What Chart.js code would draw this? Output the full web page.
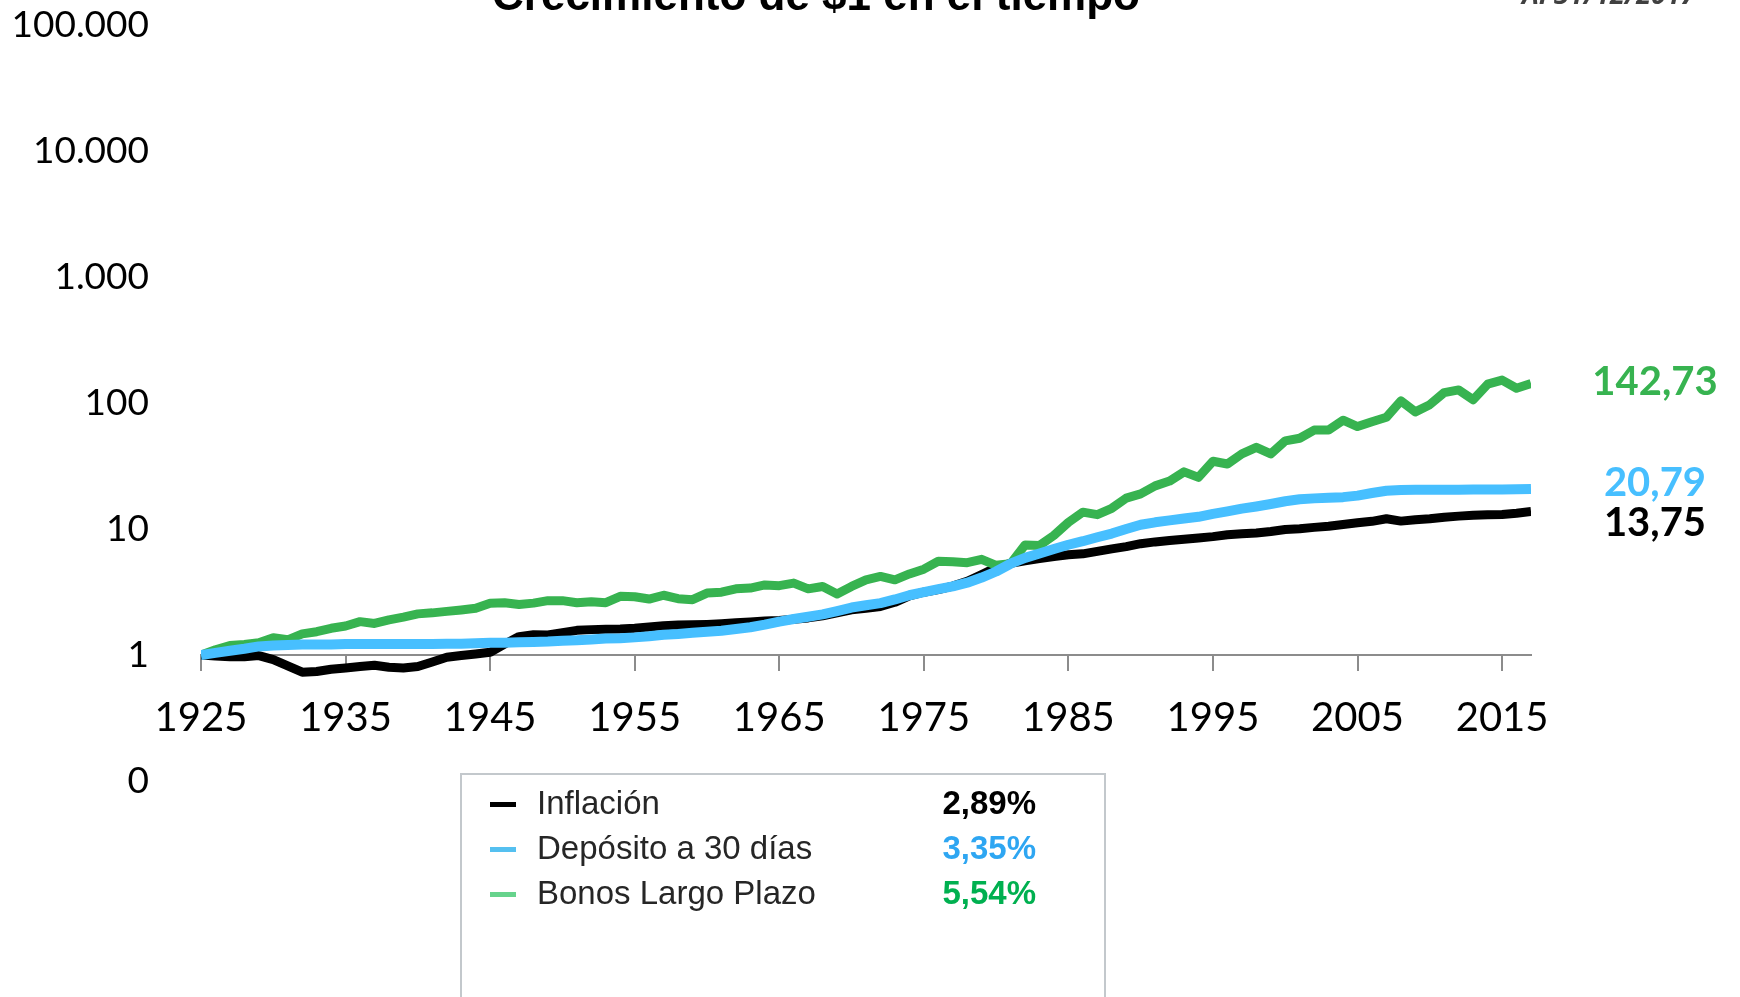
<!DOCTYPE html>
<html><head><meta charset="utf-8">
<script src="https://cdn.jsdelivr.net/npm/chart.js@4.4.1/dist/chart.umd.min.js"></script>
<style>
html,body{margin:0;padding:0;background:#fff;}
#wrap{position:relative;width:1740px;height:997px;overflow:hidden;background:#fff;}
#c{position:absolute;left:0;top:0;}
.t{position:absolute;white-space:nowrap;}
#title{left:816px;top:-27px;transform:translateX(-50%);font:bold 44px "Liberation Sans",Arial,sans-serif;line-height:44px;color:#000;}
#date{left:1522px;top:-20px;font:italic bold 27px "Open Sans",sans-serif;line-height:27px;color:#404040;}
.end{font:bold 40px Lato,sans-serif;line-height:48px;transform:translateX(-50%);left:1655px;}
#legend{position:absolute;left:460px;top:773px;width:646px;height:260px;border:2px solid #c3c8cc;box-sizing:border-box;}
.lm{position:absolute;left:490px;width:26px;height:5px;}
.lt{position:absolute;left:537px;font:33px "Liberation Sans",Arial,sans-serif;line-height:40px;color:#262626;}
.lp{position:absolute;right:704px;font:bold 33px "Liberation Sans",Arial,sans-serif;line-height:40px;text-align:right;}
</style></head><body>
<div id="wrap">
<canvas id="c" width="1740" height="997"></canvas>
<div class="t" id="title">Crecimiento de $1 en el tiempo</div>
<div class="t" id="date">Al 31/12/2017</div>
<div id="legend"></div>
<div id="legendItems"></div>
<div id="endLabels"></div>
</div>
<script>
// ---- data ----
const years = [
 1925,1926,1927,1928,1929,1930,1931,1932,1933,1934,
 1935,1936,1937,1938,1939,1940,1941,1942,1943,1944,
 1945,1946,1947,1948,1949,1950,1951,1952,1953,1954,
 1955,1956,1957,1958,1959,1960,1961,1962,1963,1964,
 1965,1966,1967,1968,1969,1970,1971,1972,1973,1974,
 1975,1976,1977,1978,1979,1980,1981,1982,1983,1984,
 1985,1986,1987,1988,1989,1990,1991,1992,1993,1994,
 1995,1996,1997,1998,1999,2000,2001,2002,2003,2004,
 2005,2006,2007,2008,2009,2010,2011,2012,2013,2014,
 2015,2016,2017
];
const inflacion = [
 1.00,0.98,0.97,0.97,0.99,0.92,0.82,0.73,0.74,0.77,
 0.79,0.81,0.83,0.80,0.79,0.81,0.88,0.96,0.99,1.02,
 1.05,1.22,1.40,1.45,1.44,1.50,1.57,1.59,1.60,1.61,
 1.63,1.67,1.71,1.73,1.74,1.75,1.77,1.80,1.83,1.86,
 1.88,1.92,1.97,2.05,2.16,2.28,2.35,2.43,2.62,2.95,
 3.15,3.30,3.52,3.85,4.35,4.95,5.35,5.60,5.82,6.05,
 6.25,6.35,6.65,6.95,7.25,7.65,7.90,8.10,8.30,8.50,
 8.70,9.00,9.15,9.30,9.55,9.90,10.05,10.30,10.50,10.85,
 11.20,11.50,12.05,11.55,11.85,12.05,12.40,12.65,12.85,12.95,
 13.05,13.35,13.75
];
const deposito = [
 1.00,1.04,1.08,1.12,1.17,1.19,1.20,1.21,1.21,1.21,
 1.22,1.22,1.22,1.22,1.22,1.22,1.22,1.23,1.23,1.24,
 1.25,1.25,1.26,1.27,1.28,1.30,1.31,1.33,1.35,1.36,
 1.38,1.41,1.45,1.47,1.50,1.53,1.56,1.61,1.66,1.74,
 1.84,1.93,2.01,2.10,2.23,2.38,2.48,2.58,2.76,2.98,
 3.16,3.33,3.50,3.75,4.12,4.60,5.30,5.90,6.40,6.95,
 7.50,8.00,8.60,9.20,10.00,10.80,11.30,11.70,12.10,12.50,
 13.20,13.80,14.50,15.10,15.80,16.60,17.20,17.50,17.70,17.90,
 18.40,19.30,20.10,20.40,20.45,20.48,20.50,20.52,20.54,20.56,
 20.58,20.65,20.79
];
const bonos = [
 1.00,1.10,1.19,1.21,1.25,1.37,1.32,1.47,1.53,1.63,
 1.70,1.84,1.78,1.90,2.00,2.12,2.16,2.22,2.28,2.35,
 2.58,2.60,2.52,2.58,2.70,2.70,2.60,2.65,2.60,2.92,
 2.90,2.78,2.98,2.80,2.75,3.10,3.15,3.35,3.40,3.60,
 3.55,3.72,3.35,3.50,3.05,3.50,3.95,4.20,3.95,4.40,
 4.80,5.55,5.50,5.40,5.75,5.15,5.30,7.45,7.40,8.90,
 11.3,13.6,13.0,14.6,17.6,19.0,22.0,24.0,28.4,25.7,
 34.5,32.8,39.5,44.5,39.5,50.0,52.5,61.0,61.0,73.0,
 65.0,71.0,77.0,104.0,85.0,97.0,121.0,127.0,106.0,141.0,
 152.0,131.0,142.73
];
const seriesNames = ["Inflación","Depósito a 30 días","Bonos Largo Plazo"];
const seriesRates = ["2,89%","3,35%","5,54%"];
const endValueLabels = ["13,75","20,79","142,73"];
const xTickValues = [1925,1935,1945,1955,1965,1975,1985,1995,2005,2015];
const yTickValues = [0.1,1,10,100,1000,10000,100000];
const yTickLabels = ["0","1","10","100","1.000","10.000","100.000"];

// ---- styles ----
const lineColors = ["#000000","#47bfff","#37b350"];
const markerColors = ["#000000","#55c0f0","#66d38c"];
const rateColors = ["#000000","#2ea6f2","#00b050"];
const endLabelPos = [{top:497},{top:457},{top:356}];

// legend (HTML)
const li = document.getElementById('legendItems');
const rowCenters = [804,849,894];
seriesNames.forEach((n,i)=>{
  const m=document.createElement('div');m.className='lm';m.style.top=(rowCenters[i]-2)+'px';m.style.background=markerColors[i];li.appendChild(m);
  const t=document.createElement('div');t.className='t lt';t.style.top=(rowCenters[i]-21)+'px';t.textContent=n;li.appendChild(t);
  const p=document.createElement('div');p.className='t lp';p.style.top=(rowCenters[i]-21)+'px';p.style.color=rateColors[i];p.textContent=seriesRates[i];li.appendChild(p);
});
const el = document.getElementById('endLabels');
endValueLabels.forEach((s,i)=>{
  const d=document.createElement('div');d.className='t end';d.style.top=endLabelPos[i].top+'px';d.style.color=lineColors[i];d.textContent=s;el.appendChild(d);
});

const toXY = arr => arr.map((v,i)=>({x:years[i],y:v}));
const common = {pointRadius:0,pointHoverRadius:0,tension:0,borderJoinStyle:'round',borderCapStyle:'butt',fill:false};

new Chart(document.getElementById('c'),{
  type:'line',
  data:{datasets:[
    Object.assign({label:seriesNames[1],data:toXY(deposito),borderColor:lineColors[1],borderWidth:10},common),
    Object.assign({label:seriesNames[2],data:toXY(bonos),borderColor:lineColors[2],borderWidth:9},common),
    Object.assign({label:seriesNames[0],data:toXY(inflacion),borderColor:lineColors[0],borderWidth:9},common)
  ]},
  options:{
    responsive:false,animation:false,devicePixelRatio:1,
    layout:{padding:{left:0,right:209,top:25,bottom:216}},
    plugins:{legend:{display:false},tooltip:{enabled:false},title:{display:false}},
    scales:{
      x:{type:'linear',min:1925,max:2017,position:{y:1},
        afterBuildTicks:s=>{s.ticks=xTickValues.map(v=>({value:v}));},
        grid:{drawOnChartArea:false,drawTicks:true,tickLength:15,color:'#8c8c8c',lineWidth:2},
        border:{display:true,color:'#8c8c8c',width:2},
        ticks:{padding:24,color:'#000',font:{family:'Lato',size:40},maxRotation:0,autoSkip:false,callback:v=>String(v)}
      },
      y:{type:'logarithmic',min:0.1,max:100000,position:'left',
        afterBuildTicks:s=>{s.ticks=yTickValues.map(v=>({value:v}));},
        afterFit:s=>{s.width=201;},
        grid:{display:true,drawOnChartArea:false,drawTicks:true,tickLength:52,color:'rgba(0,0,0,0)'},
        border:{display:false},
        ticks:{padding:0,color:'#000',font:{family:'Lato',size:37},autoSkip:false,
          callback:(v)=>{const k=yTickValues.indexOf(v);return k>=0?yTickLabels[k]:'';}}
      }
    }
  }
});
</script>
</body></html>
